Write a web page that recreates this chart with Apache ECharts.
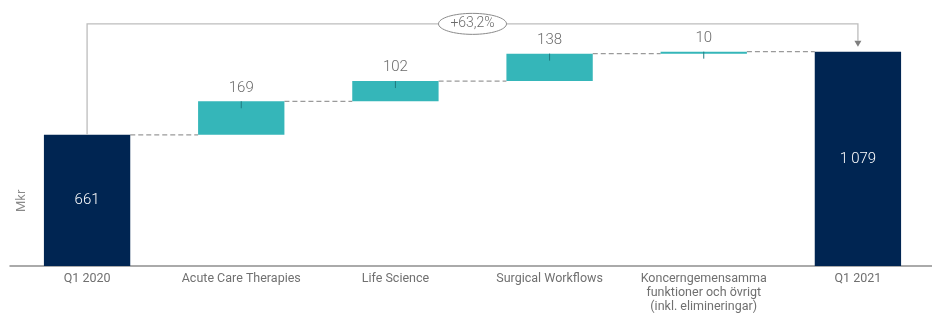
<!DOCTYPE html>
<html>
<head>
    <meta charset="UTF-8">
    <title>Mkr brygga</title>
    <script type="text/javascript" src="https://cdn.jsdelivr.net/npm/echarts@6/dist/echarts.min.js"></script>
    <style>
        html, body { margin: 0; padding: 0; background: #fff; overflow: hidden; }
    </style>
</head>
<body>
    <div id="bridge" style="width:940px; height:314px;"></div>
    <script>
        // data
        var categories = ['Q1 2020', 'Acute Care Therapies', 'Life Science', 'Surgical Workflows',
            'Koncerngemensamma\nfunktioner och övrigt\n(inkl. elimineringar)', 'Q1 2021'];
        var totals = [661, null, null, null, null, 1079];
        var changes = [null, 169, 102, 138, 10, null];

        var NAVY = '#002552';
        var TEAL = '#35b6b9';
        var GREY_TXT = '#6b6b6b';

        // invisible base for the floating bars + running level after each step
        var base = [], level = [], run = totals[0];
        for (var i = 0; i < categories.length; i++) {
            if (changes[i] != null) {
                base.push(run);
                run += changes[i];
            } else {
                base.push(null);
                if (totals[i] != null && i === 0) run = totals[i];
            }
            level.push(i === categories.length - 1 ? totals[i] : run);
        }
        var connectors = [];
        for (var j = 0; j < categories.length - 1; j++) connectors.push([j, level[j]]);
        var ticks = [];
        for (var k = 0; k < categories.length; k++) if (changes[k] != null) ticks.push([k, base[k] + changes[k]]);

        var first = 0, last = categories.length - 1;
        var pct = (totals[last] / totals[first] - 1) * 100;
        var pctText = '+' + pct.toFixed(1).replace('.', ',') + '%';

        var chart_bridge = echarts.init(document.getElementById('bridge'), null, {renderer: 'canvas'});

        var option_bridge = {
            animation: false,
            textStyle: { fontFamily: 'Roboto' },
            grid: { left: 10, right: 5, top: 8, bottom: 47 },
            xAxis: {
                type: 'category',
                data: categories,
                axisTick: { show: false },
                axisLine: { lineStyle: { color: '#8f8f8f', width: 1.5 } },
                axisLabel: { color: '#707070', fontSize: 12.5, margin: 6, lineHeight: 14, interval: 0 }
            },
            yAxis: {
                type: 'value',
                min: 0,
                max: 1300,
                show: false
            },
            graphic: [{
                type: 'text',
                x: 15,
                y: 212,
                rotation: Math.PI / 2,
                style: { text: 'Mkr', fill: '#8a8a8a', font: '13px Roboto' }
            }],
            series: [
                {
                    name: 'base',
                    type: 'bar',
                    stack: 'w',
                    barWidth: '56%',
                    itemStyle: { color: 'transparent' },
                    silent: true,
                    data: base
                },
                {
                    name: 'förändring',
                    type: 'bar',
                    stack: 'w',
                    barWidth: '56%',
                    itemStyle: { color: TEAL },
                    label: {
                        show: true, position: 'top', distance: 6,
                        color: GREY_TXT, fontSize: 15, fontWeight: 300
                    },
                    data: changes
                },
                {
                    name: 'total',
                    type: 'bar',
                    stack: 'w',
                    barWidth: '56%',
                    itemStyle: { color: NAVY },
                    label: {
                        show: true, position: 'inside',
                        color: '#ffffff', fontSize: 15, fontWeight: 300,
                        formatter: function (p) { return String(p.value).replace(/(\d)(\d{3})$/, '$1\u2009$2'); }
                    },
                    data: totals
                },
                {
                    name: 'connectors',
                    type: 'custom',
                    silent: true,
                    z: 1,
                    renderItem: function (params, api) {
                        var a = api.coord([api.value(0), api.value(1)]);
                        var b = api.coord([api.value(0) + 1, api.value(1)]);
                        var half = api.size([1, 0])[0] * 0.28;
                        return {
                            type: 'line',
                            shape: { x1: a[0] + half, y1: a[1], x2: b[0] - half, y2: a[1] },
                            style: { stroke: '#9a9a9a', lineWidth: 1.3, lineDash: [5, 3] }
                        };
                    },
                    data: connectors
                },
                {
                    name: 'ticks',
                    type: 'custom',
                    silent: true,
                    z: 5,
                    renderItem: function (params, api) {
                        var a = api.coord([api.value(0), api.value(1)]);
                        return {
                            type: 'line',
                            shape: { x1: a[0], y1: a[1], x2: a[0], y2: a[1] + 7 },
                            style: { stroke: '#1f7b80', lineWidth: 1 }
                        };
                    },
                    data: ticks
                },
                {
                    name: 'bracket',
                    type: 'custom',
                    silent: true,
                    z: 6,
                    renderItem: function (params, api) {
                        var p0 = api.coord([api.value(0), api.value(1)]);
                        var p1 = api.coord([api.value(2), api.value(3)]);
                        var topY = p1[1] - 28;
                        var midX = (p0[0] + p1[0]) / 2;
                        return {
                            type: 'group',
                            children: [
                                {
                                    type: 'polyline',
                                    shape: { points: [[p0[0], p0[1]], [p0[0], topY], [p1[0], topY], [p1[0], p1[1] - 11]] },
                                    style: { stroke: '#bdbdbd', lineWidth: 1.3, fill: null }
                                },
                                {
                                    type: 'polygon',
                                    shape: { points: [[p1[0] - 3.5, p1[1] - 11], [p1[0] + 3.5, p1[1] - 11], [p1[0], p1[1] - 5]] },
                                    style: { fill: '#7f7f7f' }
                                },
                                {
                                    type: 'ellipse',
                                    shape: { cx: midX, cy: topY, rx: 34, ry: 10.5 },
                                    style: { fill: '#ffffff', stroke: '#8a8a8a', lineWidth: 1 }
                                },
                                {
                                    type: 'text',
                                    x: midX,
                                    y: topY,
                                    style: {
                                        text: pctText, fill: GREY_TXT, font: '300 14px Roboto',
                                        align: 'center', verticalAlign: 'middle'
                                    }
                                }
                            ]
                        };
                    },
                    data: [[first, totals[first], last, totals[last]]]
                }
            ]
        };
        chart_bridge.setOption(option_bridge);
    </script>
</body>
</html>
